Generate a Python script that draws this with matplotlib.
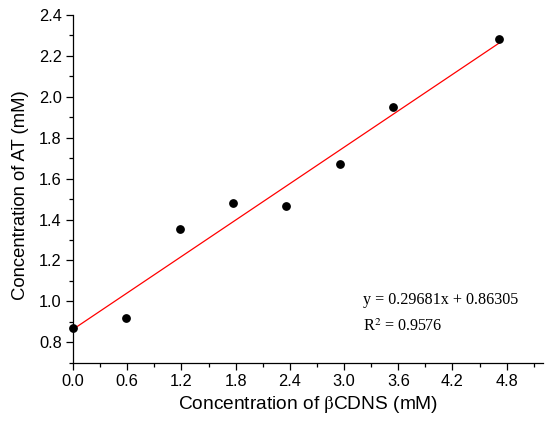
import matplotlib
matplotlib.use("Agg")
import matplotlib.pyplot as plt
import numpy as np
from matplotlib.ticker import AutoMinorLocator

# Data
conc_bcdns = [0.0, 0.59, 1.18, 1.77, 2.36, 2.95, 3.54, 4.72]
conc_at = [0.870, 0.918, 1.354, 1.481, 1.466, 1.672, 1.951, 2.284]
slope = 0.29681
intercept = 0.86305
r2_text = "0.9576"
x_ticks = [0.0, 0.6, 1.2, 1.8, 2.4, 3.0, 3.6, 4.2, 4.8]
y_ticks = [0.8, 1.0, 1.2, 1.4, 1.6, 1.8, 2.0, 2.2, 2.4]

plt.rcParams['font.family'] = ['Liberation Sans', 'DejaVu Sans']
plt.rcParams['mathtext.fontset'] = 'stix'

fig = plt.figure(figsize=(5.5, 4.24), dpi=100)
ax = fig.add_axes([0.1327, 0.1446, 0.987 - 0.1327, 0.9646 - 0.1446])

ax.scatter(conc_bcdns, conc_at, s=28, color='black', zorder=3, clip_on=False)
xfit = np.array([min(conc_bcdns), max(conc_bcdns)])
ax.plot(xfit, slope * xfit + intercept, color='red', lw=0.9, zorder=2)

ax.set_xlim(0, 5.2)
ax.set_ylim(0.7, 2.4)
ax.set_xticks(x_ticks)
ax.set_yticks(y_ticks)
ax.set_xticklabels([f"{v:.1f}" for v in x_ticks])
ax.set_yticklabels([f"{v:.1f}" for v in y_ticks])
ax.xaxis.set_minor_locator(AutoMinorLocator(2))
ax.yaxis.set_minor_locator(AutoMinorLocator(2))

for s in ['top', 'right']:
    ax.spines[s].set_visible(False)
for s in ['left', 'bottom']:
    ax.spines[s].set_linewidth(0.9)

ax.tick_params(which='major', direction='out', length=5, width=0.9, labelsize=11.8, pad=3)
ax.tick_params(which='minor', direction='out', length=3, width=0.9)

ax.set_xlabel(r'Concentration of $\mathrm{\beta}$CDNS (mM)', fontsize=13.8, labelpad=4)
ax.set_ylabel('Concentration of AT (mM)', fontsize=13.3)
ax.yaxis.set_label_coords(-0.094, 0.482)

ax.text(3.21, 1.005, f"y = {slope}x + {intercept}", fontsize=11.6,
        family=['Liberation Serif', 'DejaVu Serif'], va='center', ha='left')
ax.text(3.21, 0.875, r"R$^2$ = " + r2_text, fontsize=11.6,
        family=['Liberation Serif', 'DejaVu Serif'], va='center', ha='left')

fig.savefig("out.png", dpi=100)
